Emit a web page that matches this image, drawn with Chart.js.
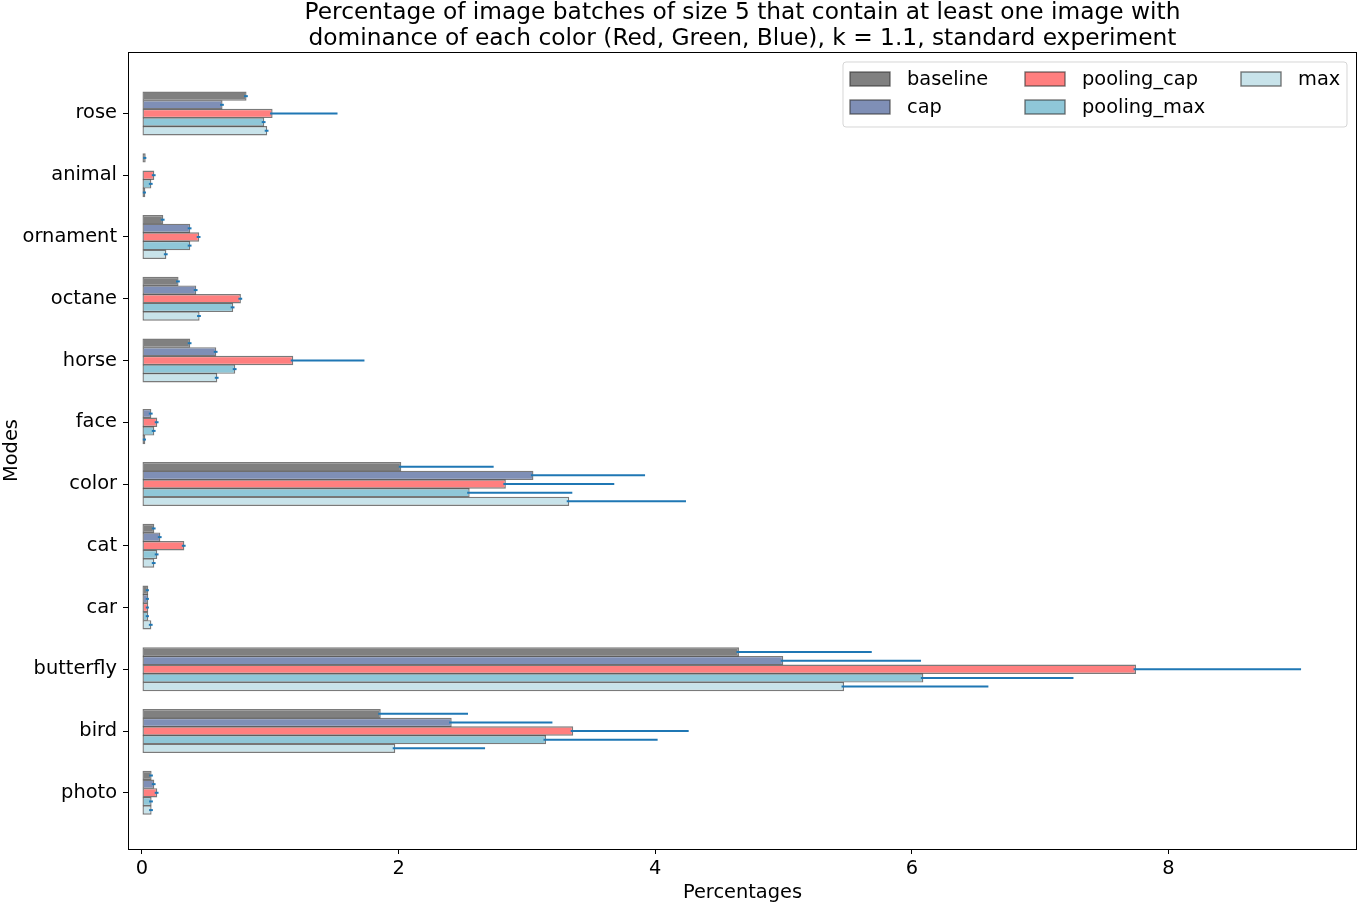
<!DOCTYPE html>
<html lang="en">
<head>
    <meta charset="UTF-8">
    <title>Percentage of image batches with color dominance</title>
    <script src="https://cdn.jsdelivr.net/npm/chart.js"></script>
    <style>
        body { margin: 0; background: #fff; }
        #wrap { width: 1359px; height: 903px; position: relative; }
    </style>
</head>
<body>
<div id="wrap">
    <canvas id="modesChart"></canvas>
</div>

<script>
    // Categories, top to bottom
    const modes = ['rose', 'animal', 'ornament', 'octane', 'horse', 'face', 'color', 'cat', 'car', 'butterfly', 'bird', 'photo'];
    const seriesNames = ['baseline', 'cap', 'pooling_cap', 'pooling_max', 'max'];
    const xTicks = [0, 2, 4, 6, 8];

    // Values (percentages)
    const baseline   = [0.815, 0.029, 0.166, 0.285, 0.376, 0.0,   2.021, 0.096, 0.049, 4.653, 1.861, 0.075];
    const cap        = [0.628, 0.0,   0.376, 0.423, 0.579, 0.073, 3.051, 0.143, 0.049, 4.998, 2.414, 0.096];
    const poolingCap = [1.018, 0.096, 0.446, 0.771, 1.179, 0.119, 2.836, 0.330, 0.049, 7.748, 3.361, 0.119];
    const poolingMax = [0.953, 0.073, 0.376, 0.711, 0.727, 0.096, 2.554, 0.119, 0.049, 6.090, 3.149, 0.075];
    const maxVals    = [0.976, 0.026, 0.190, 0.449, 0.587, 0.026, 3.330, 0.096, 0.073, 5.472, 1.974, 0.075];

    // Error (upper side)
    const baselineErr   = [0.01, 0.005, 0.01, 0.01, 0.01,  0,     0.720, 0.01, 0.005, 1.035, 0.680, 0.01];
    const capErr        = [0.01, 0,     0.01, 0.01, 0.01,  0.01,  0.870, 0.01, 0.005, 1.074, 0.785, 0.01];
    const poolingCapErr = [0.506, 0.01, 0.01, 0.01, 0.555, 0.01,  0.845, 0.01, 0.005, 1.286, 0.900, 0.01];
    const poolingMaxErr = [0.01, 0.01,  0.01, 0.01, 0.01,  0.01,  0.800, 0.01, 0.005, 1.170, 0.870, 0.01];
    const maxErr        = [0.01, 0.005, 0.01, 0.01, 0.01,  0.005, 0.910, 0.01, 0.010, 1.125, 0.700, 0.01];

    const values = [baseline, cap, poolingCap, poolingMax, maxVals];
    const errors = [baselineErr, capErr, poolingCapErr, poolingMaxErr, maxErr];
    const fills = ['#808080', '#7f8fb6', '#ff7f7f', '#8fc7d8', '#c8e3ea'];
    const edge = 'rgba(50, 50, 50, 0.65)';
    const errColor = '#1f77b4';
    const font = 'DejaVu Sans';
    const fs = 19.4;

    const datasets = seriesNames.map((name, s) => ({
        label: name,
        data: values[s].map((v, i) => ({ x: v, y: i })),
        errors: errors[s],
        backgroundColor: fills[s],
        borderColor: edge,
        borderWidth: 1.4,
        borderSkipped: false,
        categoryPercentage: 0.7,
        barPercentage: 1.08
    }));

    // error bars drawn on top of the bars
    const errorBars = {
        id: 'errorBars',
        afterDatasetsDraw(chart) {
            const ctx = chart.ctx;
            const xs = chart.scales.x;
            ctx.save();
            ctx.strokeStyle = errColor;
            ctx.lineWidth = 2;
            chart.data.datasets.forEach((ds, s) => {
                const meta = chart.getDatasetMeta(s);
                meta.data.forEach((bar, i) => {
                    const v = ds.data[i].x;
                    const e = ds.errors[i];
                    if (v <= 0) return;
                    const x1 = xs.getPixelForValue(v) - 2.5;
                    const x2 = xs.getPixelForValue(v + e);
                    ctx.beginPath();
                    ctx.moveTo(x1, bar.y);
                    ctx.lineTo(x2, bar.y);
                    ctx.stroke();
                });
            });
            ctx.restore();
        }
    };

    // axes box + legend in the upper right corner
    const frameAndLegend = {
        id: 'frameAndLegend',
        afterDraw(chart) {
            const ctx = chart.ctx;
            const a = chart.chartArea;
            ctx.save();
            ctx.strokeStyle = '#000';
            ctx.lineWidth = 1;
            ctx.strokeRect(Math.round(a.left) + 0.5, Math.round(a.top) + 0.5,
                Math.round(a.right - a.left) - 1, Math.round(a.bottom - a.top));

            const lx = a.right - 514, ly = a.top + 10, lw = 504, lh = 65;
            ctx.beginPath();
            ctx.roundRect(lx, ly, lw, lh, 3);
            ctx.fillStyle = 'rgba(255,255,255,0.8)';
            ctx.fill();
            ctx.strokeStyle = 'rgba(204,204,204,0.8)';
            ctx.stroke();

            const colX = [7, 182, 398];
            const rowY = [17, 45];
            ctx.font = fs + 'px "' + font + '"';
            ctx.textBaseline = 'middle';
            chart.data.datasets.forEach((ds, s) => {
                const col = Math.floor(s / 2), row = s % 2;
                const px = lx + colX[col], py = ly + rowY[row];
                ctx.fillStyle = ds.backgroundColor;
                ctx.fillRect(px, py - 7, 40, 14);
                ctx.strokeStyle = edge;
                ctx.lineWidth = 1.4;
                ctx.strokeRect(px, py - 7, 40, 14);
                ctx.fillStyle = '#000';
                ctx.fillText(ds.label, px + 57, py + 1);
            });
            ctx.restore();
        }
    };

    new Chart(document.getElementById('modesChart'), {
        type: 'bar',
        data: { datasets: datasets },
        options: {
            indexAxis: 'y',
            responsive: true,
            maintainAspectRatio: false,
            animation: false,
            layout: { padding: { top: 0, right: 2, left: 0, bottom: 0 } },
            plugins: {
                legend: { display: false },
                tooltip: { enabled: false },
                title: {
                    display: true,
                    fullSize: false,
                    text: ['Percentage of image batches of size 5 that contain at least one image with',
                           'dominance of each color (Red, Green, Blue), k = 1.1, standard experiment'],
                    color: '#000',
                    font: { family: font, size: 23.3, weight: 'normal', lineHeight: 1.116 },
                    padding: { top: 0, bottom: 0 }
                }
            },
            scales: {
                x: {
                    type: 'linear',
                    min: -0.109,
                    max: 9.47,
                    afterBuildTicks: scale => { scale.ticks = xTicks.map(v => ({ value: v })); },
                    afterFit: scale => { scale.height = 54; },
                    grid: { drawOnChartArea: false, drawTicks: true, tickLength: 5, color: '#000' },
                    border: { display: false },
                    ticks: { color: '#000', font: { family: font, size: fs }, padding: 3 },
                    title: { display: true, text: 'Percentages', color: '#000', font: { family: font, size: fs, lineHeight: 1.0 }, padding: 0 }
                },
                y: {
                    type: 'linear',
                    reverse: true,
                    offset: false,
                    min: -0.995,
                    max: 11.91,
                    afterBuildTicks: scale => { scale.ticks = modes.map((m, i) => ({ value: i })); },
                    afterFit: scale => { scale.width = 128; },
                    grid: { offset: false, drawOnChartArea: false, drawTicks: true, tickLength: 5, color: '#000' },
                    border: { display: false },
                    ticks: {
                        color: '#000',
                        font: { family: font, size: fs },
                        padding: 6,
                        callback: v => modes[v]
                    },
                    title: { display: true, text: 'Modes', color: '#000', font: { family: font, size: fs }, padding: 0 }
                }
            }
        },
        plugins: [errorBars, frameAndLegend]
    });
</script>
</body>
</html>
